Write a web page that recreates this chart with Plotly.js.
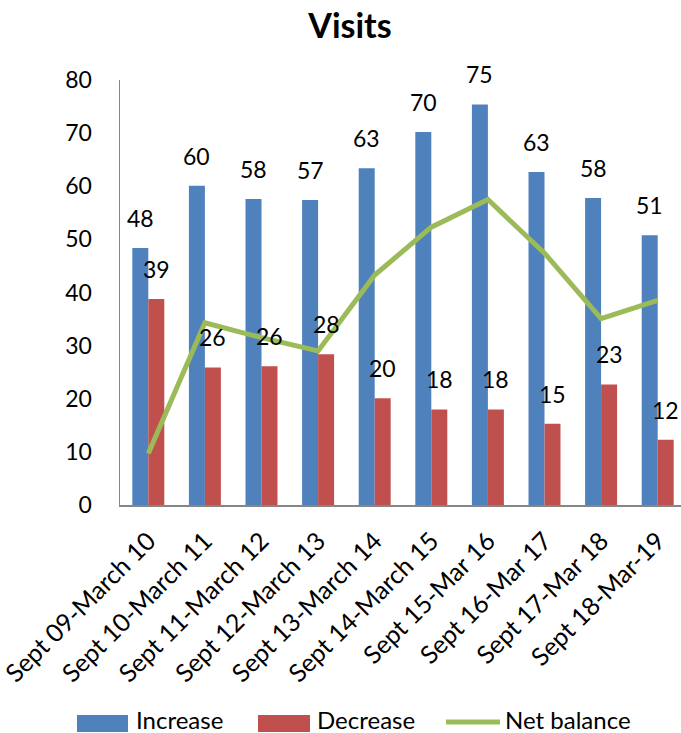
<!DOCTYPE html>
<html>
<head>
<meta charset="utf-8">
<script src="https://cdn.plot.ly/plotly-3.0.1.min.js"></script>
<style>
  html, body { margin: 0; padding: 0; overflow: hidden; background: #fff; }
  #chart { width: 686px; height: 733px; }
</style>
</head>
<body>
<div id="chart"></div>
<script>
// ---- data ----
const categories = [
  "Sept 09-March 10", "Sept 10-March 11", "Sept 11-March 12", "Sept 12-March 13",
  "Sept 13-March 14", "Sept 14-March 15", "Sept 15-Mar 16", "Sept 16-Mar 17",
  "Sept 17-Mar 18", "Sept 18-Mar-19"
];
const increase = [48.4, 60.1, 57.6, 57.4, 63.4, 70.2, 75.4, 62.7, 57.8, 50.8];
const decrease = [38.8, 25.9, 26.1, 28.4, 20.1, 18.0, 18.0, 15.3, 22.7, 12.3];
const netBalance = [9.7, 34.3, 31.5, 29.0, 43.3, 52.3, 57.5, 47.4, 35.1, 38.5];
const seriesNames = ["Increase", "Decrease", "Net balance"];
const yTicks = [0, 10, 20, 30, 40, 50, 60, 70, 80];

// ---- styles ----
const FONT = "Lato, 'Open Sans', sans-serif";
const BLUE = "#4F81BD", RED = "#C0504D", GREEN = "#9BBB59";
const W = 686, H = 733, ML = 120, MR = 0, MT = 80, MB = 228;

const traces = [
  { type: "bar", name: seriesNames[0], x: categories, y: increase,
    marker: { color: BLUE }, showlegend: false, hoverinfo: "skip" },
  { type: "bar", name: seriesNames[1], x: categories, y: decrease,
    marker: { color: RED }, showlegend: false, hoverinfo: "skip" },
  { type: "scatter", mode: "lines", name: seriesNames[2], x: categories, y: netBalance,
    line: { color: GREEN, width: 5 }, showlegend: false, hoverinfo: "skip" }
];

// value labels above bars
const annotations = [];
categories.forEach((c, i) => {
  annotations.push({ x: c, y: increase[i], xref: "x", yref: "y", text: String(Math.round(increase[i])),
    showarrow: false, xshift: -8, yshift: 14, yanchor: "bottom",
    font: { family: FONT, size: 23, color: "#000" } });
  annotations.push({ x: c, y: decrease[i], xref: "x", yref: "y", text: String(Math.round(decrease[i])),
    showarrow: false, xshift: 8, yshift: 14, yanchor: "bottom",
    font: { family: FONT, size: 23, color: "#000" } });
});

// custom legend (pixel -> paper helpers)
const pw = W - ML - MR, ph = H - MT - MB;
const px = v => (v - ML) / pw;
const py = v => (H - MB - v) / ph;
const shapes = [
  { type: "rect", xref: "paper", yref: "paper", x0: px(77), x1: px(128), y0: py(732), y1: py(715),
    fillcolor: BLUE, line: { width: 0 } },
  { type: "rect", xref: "paper", yref: "paper", x0: px(258), x1: px(310), y0: py(732), y1: py(715),
    fillcolor: RED, line: { width: 0 } },
  { type: "line", xref: "paper", yref: "paper", x0: px(446), x1: px(500), y0: py(722), y1: py(722),
    line: { color: GREEN, width: 5 } }
];
const legendText = [[134, seriesNames[0]], [315, seriesNames[1]], [503, seriesNames[2]]];
legendText.forEach(([x, t]) => {
  annotations.push({ xref: "paper", yref: "paper", x: px(x), y: py(736), text: t, showarrow: false,
    xanchor: "left", yanchor: "bottom", font: { family: FONT, size: 24, color: "#000" } });
});

const layout = {
  width: W, height: H,
  margin: { l: ML, r: MR, t: MT, b: MB },
  paper_bgcolor: "#fff", plot_bgcolor: "#fff",
  font: { family: FONT, size: 23, color: "#000" },
  title: { text: "<b>Visits</b>", font: { family: FONT, size: 34, color: "#000" },
    xref: "container", yref: "container", x: 350 / W, y: 1 - 26 / H, xanchor: "center", yanchor: "middle" },
  barmode: "group", bargap: 0.435, bargroupgap: 0,
  showlegend: false,
  xaxis: { type: "category", showgrid: false, zeroline: false, showline: true,
    linecolor: "#868686", linewidth: 1.5, ticks: "", tickangle: -45, ticklabelstandoff: 10,
    tickfont: { family: FONT, size: 25, color: "#000" }, fixedrange: true },
  yaxis: { range: [0, 80], tickvals: yTicks, showgrid: false, zeroline: false, showline: true,
    linecolor: "#868686", linewidth: 1.5, ticks: "", ticklabelstandoff: 22,
    tickfont: { family: FONT, size: 23, color: "#000" }, fixedrange: true },
  annotations: annotations,
  shapes: shapes
};

Plotly.newPlot("chart", traces, layout, { displayModeBar: false, staticPlot: true });
</script>
</body>
</html>
